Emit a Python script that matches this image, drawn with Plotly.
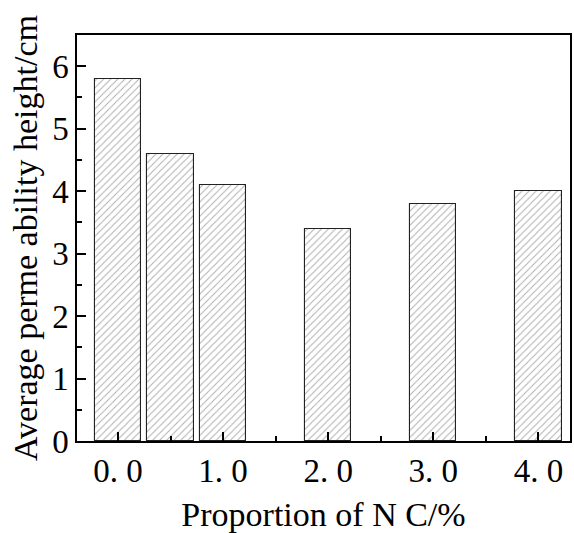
import plotly.graph_objects as go

proportion = [0.0, 0.5, 1.0, 2.0, 3.0, 4.0]
height_cm = [5.8, 4.6, 4.1, 3.4, 3.8, 4.0]
x_tick_vals = [0, 1, 2, 3, 4]
x_tick_text = ["0. 0", "1. 0", "2. 0", "3. 0", "4. 0"]
y_tick_vals = [0, 1, 2, 3, 4, 5, 6]

FONT = "Liberation Serif, Times New Roman, serif"

fig = go.Figure(go.Bar(
    x=proportion, y=height_cm, width=0.44,
    marker=dict(
        color="white",
        line=dict(color="#222222", width=1.1),
        pattern=dict(shape="/", fgcolor="#555555", bgcolor="white", size=5, solidity=0.18),
    ),
    showlegend=False,
))

fig.update_layout(
    width=574, height=533,
    margin=dict(l=77, r=2, t=35, b=92),
    paper_bgcolor="white", plot_bgcolor="white",
    font=dict(family=FONT, color="black", size=34),
    bargap=0,
)
fig.update_xaxes(
    range=[-0.39, 4.3],
    tickvals=x_tick_vals, ticktext=x_tick_text,
    ticks="inside", ticklen=9, tickwidth=1.5, tickcolor="black",
    minor=dict(ticks="inside", dtick=0.5, tick0=0, ticklen=5, tickwidth=1.5, tickcolor="black"),
    showline=True, linecolor="black", linewidth=1.5, mirror=True,
    showgrid=False, zeroline=False, layer="above traces",
    tickfont=dict(size=33, family=FONT),
    title=dict(text="Proportion of N C/%", font=dict(size=34, family=FONT), standoff=14),
)
fig.update_yaxes(
    range=[0, 6.5],
    tickvals=y_tick_vals,
    ticks="inside", ticklen=9, tickwidth=1.5, tickcolor="black",
    minor=dict(ticks="inside", dtick=0.5, tick0=0, ticklen=5, tickwidth=1.5, tickcolor="black"),
    showline=True, linecolor="black", linewidth=1.5, mirror=True,
    showgrid=False, zeroline=False, layer="above traces",
    tickfont=dict(size=33, family=FONT),
    title=dict(text="Average perme ability height/cm", font=dict(size=34, family=FONT), standoff=4),
)

fig.write_html("out.html")
